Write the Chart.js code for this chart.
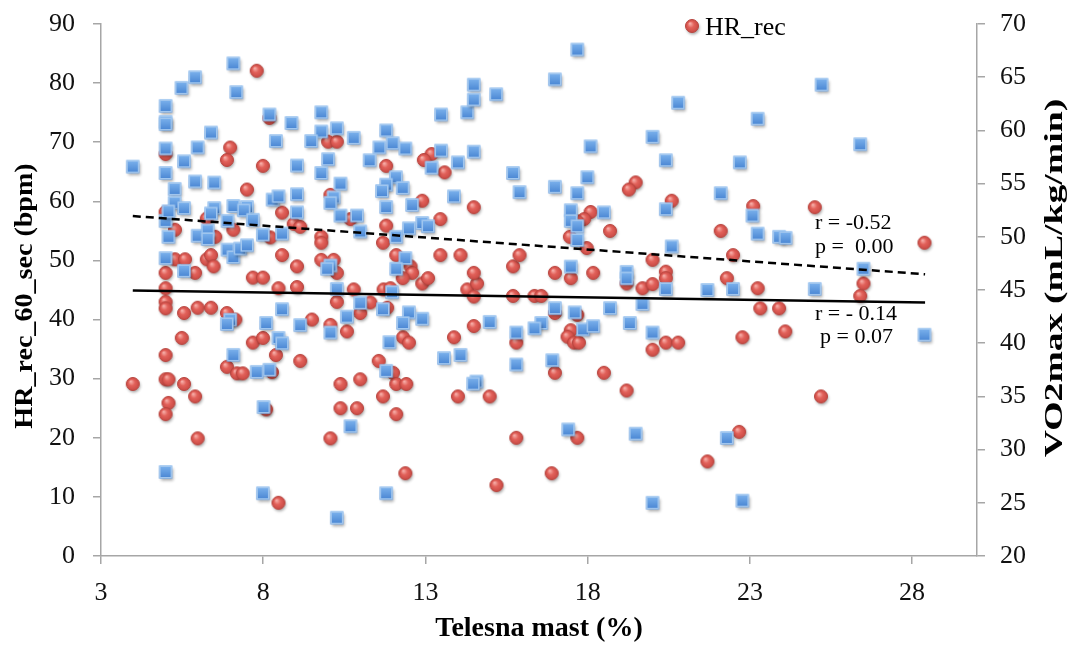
<!DOCTYPE html>
<html>
<head>
<meta charset="utf-8">
<script src="https://cdn.jsdelivr.net/npm/chart.js@4.4.0/dist/chart.umd.min.js"></script>
<style>
html,body{margin:0;padding:0;background:#fff;}
#wrap{width:1072px;height:646px;position:relative;}
</style>
</head>
<body>
<div id="wrap"><canvas id="c" width="1072" height="646"></canvas></div>
<script>
// ---- data ----
const xTicks = [3, 8, 13, 18, 23, 28];
const hrTicks = [0, 10, 20, 30, 40, 50, 60, 70, 80, 90];
const vo2Ticks = [20, 25, 30, 35, 40, 45, 50, 55, 60, 65, 70];

const hrX = [7.80,8.19,6.98,6.88,7.99,4.99,7.50,8.58,4.99,5.28,
6.26,6.52,7.08,8.22,8.94,9.14,8.58,5.28,5.59,6.26,
6.39,6.47,4.99,5.90,9.04,7.68,7.99,4.99,8.47,9.04,
4.99,4.99,5.56,5.98,6.39,6.88,7.14,5.49,7.68,7.99,
8.39,4.99,6.88,7.19,7.37,8.27,4.99,5.08,5.56,3.98,
5.90,5.08,4.99,8.09,5.98,8.47,9.14,10.79,11.71,10.27,
10.99,11.30,11.82,9.50,10.07,10.58,12.31,12.49,11.56,12.00,
12.10,12.41,10.38,10.99,11.69,10.38,10.89,12.10,10.07,12.38,
15.19,14.49,13.88,14.00,14.98,15.80,15.80,14.29,14.59,14.49,
15.70,12.90,10.00,10.27,11.79,13.19,12.95,13.59,10.07,12.90,
14.49,13.46,10.69,11.79,9.79,9.79,11.69,9.79,10.17,10.27,
12.10,12.54,12.59,12.30,13.08,13.46,14.08,14.49,15.70,15.90,
19.48,19.27,20.59,18.09,17.89,17.68,18.69,17.45,17.97,22.10,
23.10,22.48,20.00,20.41,20.41,16.99,17.48,18.17,22.29,19.69,
20.00,23.24,19.20,25.00,28.38,26.50,23.32,23.90,24.09,26.40,
25.19,16.36,16.57,16.99,17.68,17.48,17.38,17.58,17.73,16.99,
18.50,19.20,20.00,20.41,20.79,22.77,17.68,16.89,21.69,22.67,
11.92];
const hrY = [82.1,74.1,69.1,67.0,66.0,68.0,62.0,58.1,58.2,55.2,
57.1,54.0,55.2,53.9,56.2,55.7,50.9,50.2,50.2,50.2,
50.9,49.0,47.9,47.9,49.0,47.1,47.1,45.3,45.3,45.5,
43.0,41.9,41.1,42.0,42.0,41.1,40.0,36.9,36.1,36.9,
34.0,34.0,32.0,30.9,30.9,31.1,29.9,29.9,29.1,29.1,
27.0,25.9,24.0,24.8,19.9,9.0,33.0,45.1,45.1,43.0,
41.1,42.9,42.0,40.0,39.1,38.0,37.0,36.1,33.0,31.0,
29.1,29.1,29.1,29.9,27.0,25.0,25.0,24.0,19.9,14.0,
12.0,38.9,37.0,27.0,27.0,36.1,20.0,45.1,46.1,43.9,
44.0,46.1,70.1,70.1,66.0,68.0,67.0,64.9,61.1,60.1,
59.0,57.0,57.0,55.9,54.0,53.0,53.0,50.1,50.1,47.9,
50.9,49.0,47.9,47.0,47.0,50.9,50.9,47.9,49.0,50.9,
63.2,62.0,60.1,58.2,57.0,56.6,55.0,54.0,52.1,55.0,
59.2,50.9,50.1,48.1,47.0,47.9,47.0,47.9,47.0,45.3,
46.0,45.3,46.1,59.0,53.0,46.1,41.9,41.9,38.0,44.0,
27.0,44.0,44.0,41.1,40.8,38.2,37.1,36.1,36.1,31.0,
31.0,28.0,34.9,36.1,36.1,37.0,20.0,14.0,16.0,21.0,
45.3];

const vo2X = [3.98,4.99,4.99,4.99,4.99,4.99,5.27,5.27,5.56,4.99,
5.08,5.08,4.99,5.56,5.56,5.48,5.90,5.90,5.98,5.98,
6.39,6.49,6.49,6.39,6.29,6.29,7.08,7.17,7.08,6.90,
6.90,7.08,7.29,7.50,7.50,7.40,7.68,7.99,8.19,8.39,
8.29,8.47,8.58,8.87,9.04,9.04,9.04,9.79,9.79,10.27,
9.48,10.79,10.00,9.79,10.38,10.17,10.07,10.38,10.89,10.99,
11.79,11.58,11.99,12.38,11.28,12.09,11.79,11.66,12.30,11.79,
12.59,12.10,12.49,12.90,13.08,12.38,12.10,10.07,9.97,13.48,
14.29,14.49,14.49,15.18,13.48,14.49,14.00,13.19,13.88,15.70,
15.90,17.68,16.99,20.79,23.24,20.00,18.09,20.41,22.69,17.99,
16.99,17.68,22.10,17.48,17.48,17.68,17.68,18.50,20.41,23.08,
23.24,20.59,17.48,19.20,19.20,25.21,26.40,23.90,24.10,26.50,
25.00,28.38,6.98,6.88,8.09,8.58,9.14,7.08,8.47,8.58,
7.80,8.19,8.01,4.99,7.99,10.27,11.97,10.99,11.69,12.49,
12.31,12.90,10.58,10.07,11.89,13.57,14.08,11.79,14.57,14.47,
14.98,15.80,15.80,10.69,11.79,10.27,16.99,17.60,16.57,16.36,
17.86,18.17,18.69,19.30,19.69,20.00,20.41,21.69,22.48,16.91,
17.40,19.48,22.29,20.00,22.77];
const vo2Y = [56.6,62.3,60.8,60.6,58.3,56.0,54.5,53.2,52.7,51.5,
52.4,50.0,48.0,46.8,57.1,64.0,65.0,55.2,58.4,50.1,
59.8,55.1,52.7,52.2,50.6,49.8,66.3,63.6,52.9,51.5,
48.8,48.1,48.9,49.2,52.8,52.5,51.6,50.2,61.5,59.0,
53.5,53.8,50.3,60.7,56.7,54.0,52.3,61.7,59.9,60.2,
59.0,59.3,57.3,56.0,55.0,53.7,53.2,52.0,52.0,50.5,
60.0,58.4,58.8,58.3,57.2,55.6,54.9,54.3,54.6,52.8,
53.0,50.0,50.8,51.3,51.0,48.0,47.0,47.3,47.0,61.5,
61.7,64.3,62.9,63.4,58.1,58.0,57.0,56.5,53.8,56.0,
54.2,67.6,64.8,62.6,61.1,59.4,58.5,57.2,57.0,55.6,
54.7,54.1,54.1,52.5,51.5,51.0,49.7,52.3,52.6,52.0,
50.3,49.1,47.2,46.7,46.1,64.3,58.7,50.0,49.9,47.0,
45.1,40.8,42.2,41.8,41.9,43.2,41.7,38.9,40.5,40.0,
37.3,37.5,34.0,27.9,25.9,45.1,44.8,43.8,43.2,42.9,
41.9,42.3,42.5,41.0,40.1,38.6,38.9,37.4,36.4,36.2,
42.0,41.0,38.0,32.2,25.9,23.6,43.3,42.9,41.9,41.4,
41.3,41.6,43.3,41.9,43.7,41.0,45.1,45.0,45.1,38.4,
31.9,31.5,31.1,25.0,25.2];

// trend lines (end points)
const trendHrX = [3.98, 28.4];
const trendHrY = [44.9, 42.9];
const trendVo2X = [3.98, 28.4];
const trendVo2Y = [51.95, 46.48];

const hrLabel = 'HR_rec';
const vo2Label = 'VO2max';
const xTitle = 'Telesna mast (%)';
const hrTitle = 'HR_rec_60_sec (bpm)';
const vo2Title = 'VO2max (mL/kg/min)';
const vo2Stats = ['r = -0.52', 'p =  0.00'];
const hrStats = ['r = - 0.14', 'p = 0.07'];

// ---- marker images ----
function makeCircle() {
  const c = document.createElement('canvas');
  c.width = 24; c.height = 24;
  const g = c.getContext('2d');
  const cx = 12, cy = 12, r = 6.5;
  g.save();
  g.shadowColor = 'rgba(0,0,0,0.35)';
  g.shadowBlur = 3; g.shadowOffsetX = 1; g.shadowOffsetY = 2;
  const grd = g.createRadialGradient(cx - 2, cy - 2.5, 0.5, cx, cy, r);
  grd.addColorStop(0, '#F6ACA6');
  grd.addColorStop(0.45, '#E2615A');
  grd.addColorStop(1, '#C94A44');
  g.fillStyle = grd;
  g.beginPath(); g.arc(cx, cy, r, 0, Math.PI * 2); g.fill();
  g.restore();
  g.lineWidth = 1; g.strokeStyle = '#B8443E';
  g.beginPath(); g.arc(cx, cy, r, 0, Math.PI * 2); g.stroke();
  return c;
}
function makeSquare() {
  const c = document.createElement('canvas');
  c.width = 24; c.height = 24;
  const g = c.getContext('2d');
  const s = 13, x0 = 12 - s / 2, y0 = 12 - s / 2;
  g.save();
  g.shadowColor = 'rgba(0,0,0,0.35)';
  g.shadowBlur = 3; g.shadowOffsetX = 1; g.shadowOffsetY = 2;
  const grd = g.createLinearGradient(0, y0, 0, y0 + s);
  grd.addColorStop(0, '#7EB4EE');
  grd.addColorStop(1, '#4784D2');
  g.fillStyle = grd;
  g.fillRect(x0, y0, s, s);
  g.restore();
  g.lineWidth = 1.5; g.strokeStyle = '#A2C7EF';
  g.strokeRect(x0 + 0.75, y0 + 0.75, s - 1.5, s - 1.5);
  return c;
}
const redImg = makeCircle();
const blueImg = makeSquare();

const pts = (xs, ys) => xs.map((x, i) => ({ x: x, y: ys[i] }));

const AXIS = '#A6A6A6';
const SERIF = '"Liberation Serif", "Times New Roman", serif';

const overlay = {
  id: 'overlay',
  afterDraw(chart) {
    const g = chart.ctx;
    g.save();
    g.fillStyle = '#000';
    // y-axis titles
    g.font = 'bold 26px ' + SERIF;
    g.textAlign = 'center'; g.textBaseline = 'middle';
    g.save(); g.translate(25, 296); g.rotate(-Math.PI / 2); g.scale(1.08, 1);
    g.fillText(hrTitle, 0, 0); g.restore();
    g.save(); g.translate(1055, 278); g.rotate(-Math.PI / 2); g.scale(1.45, 1);
    g.fillText(vo2Title, 0, 0); g.restore();
    // legend
    g.drawImage(redImg, 692 - 12, 26 - 12);
    g.font = '26px ' + SERIF;
    g.textAlign = 'left'; g.textBaseline = 'alphabetic';
    g.fillText(hrLabel, 705, 35);
    // stats
    g.font = '22px ' + SERIF;
    g.fillText(vo2Stats[0], 815, 229);
    g.fillText(vo2Stats[1], 815, 253);
    g.fillText(hrStats[0], 815, 320);
    g.fillText(hrStats[1], 820, 343);
    g.restore();
  }
};

const fitV = w => s => { s.width = w; s.paddingTop = 0; s.paddingBottom = 0; };

new Chart(document.getElementById('c'), {
  type: 'scatter',
  data: {
    datasets: [
      { label: 'trend ' + vo2Label, data: pts(trendVo2X, trendVo2Y), yAxisID: 'y2', showLine: true,
        borderColor: '#000', borderWidth: 2.5, borderDash: [8, 5], pointRadius: 0, order: 0 },
      { label: 'trend ' + hrLabel, data: pts(trendHrX, trendHrY), yAxisID: 'y', showLine: true,
        borderColor: '#000', borderWidth: 2.5, pointRadius: 0, order: 0 },
      { label: vo2Label, data: pts(vo2X, vo2Y), yAxisID: 'y2', pointStyle: blueImg, pointRadius: 7, order: 1 },
      { label: hrLabel, data: pts(hrX, hrY), yAxisID: 'y', pointStyle: redImg, pointRadius: 7, order: 2 }
    ]
  },
  options: {
    responsive: false, animation: false, devicePixelRatio: 1,
    layout: { padding: { top: 24, left: 0, right: 0, bottom: 0 } },
    plugins: { legend: { display: false }, tooltip: { enabled: false } },
    scales: {
      x: {
        type: 'linear', min: 3, max: 30,
        afterBuildTicks: s => { s.ticks = xTicks.map(v => ({ value: v })); },
        afterFit: s => { s.height = 90; s.paddingLeft = 0; s.paddingRight = 0; },
        grid: { display: true, drawOnChartArea: false, drawTicks: true, tickLength: 8, color: AXIS, lineWidth: 1.5 },
        border: { display: true, color: AXIS, width: 1.5 },
        ticks: { font: { family: SERIF, size: 26 }, color: '#111', padding: 14, maxRotation: 0, autoSkip: false },
        title: { display: true, text: xTitle, font: { family: SERIF, size: 28, weight: 'bold' }, color: '#000', padding: { top: 0, bottom: 0 } }
      },
      y: {
        type: 'linear', position: 'left', min: 0, max: 90,
        afterBuildTicks: s => { s.ticks = hrTicks.map(v => ({ value: v })); },
        afterFit: fitV(101),
        grid: { display: true, drawOnChartArea: false, drawTicks: true, tickLength: 8, color: AXIS, lineWidth: 1.5 },
        border: { display: true, color: AXIS, width: 1.5 },
        ticks: { font: { family: SERIF, size: 26 }, color: '#111', padding: 18, autoSkip: false }
      },
      y2: {
        type: 'linear', position: 'right', min: 20, max: 70,
        afterBuildTicks: s => { s.ticks = vo2Ticks.map(v => ({ value: v })); },
        afterFit: fitV(95),
        grid: { display: true, drawOnChartArea: false, drawTicks: true, tickLength: 8, color: AXIS, lineWidth: 1.5 },
        border: { display: true, color: AXIS, width: 1.5 },
        ticks: { font: { family: SERIF, size: 26 }, color: '#111', padding: 15, autoSkip: false }
      }
    }
  },
  plugins: [overlay]
});
</script>
</body>
</html>
